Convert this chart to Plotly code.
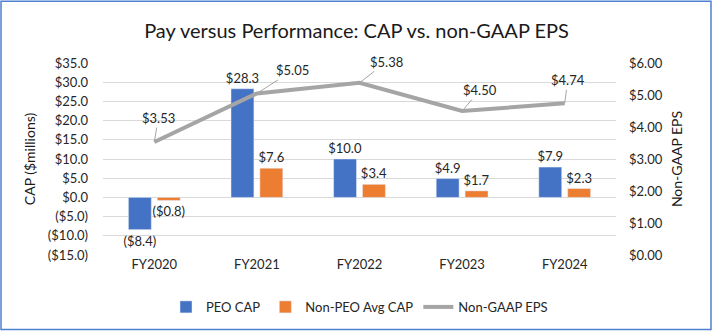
import plotly.graph_objects as go

years = ["FY2020", "FY2021", "FY2022", "FY2023", "FY2024"]
peo_cap = [-8.4, 28.3, 10.0, 4.9, 7.9]
non_peo_cap = [-0.8, 7.6, 3.4, 1.7, 2.3]
eps = [3.53, 5.05, 5.38, 4.50, 4.74]

left_ticks = [35, 30, 25, 20, 15, 10, 5, 0, -5, -10, -15]
right_ticks = [6, 5, 4, 3, 2, 1, 0]
# label offsets (px) for EPS data labels
eps_label_dx = [4, 36, 27, 18, 3]
eps_label_dy = [-24, -23, -21, -21, -23]


def money1(v):
    return f"(${abs(v):.1f})" if v < 0 else f"${v:.1f}"


def money2(v):
    return f"${v:.2f}"


FONT = "Lato, 'Open Sans', sans-serif"
TXT = "#262626"

fig = go.Figure()
fig.add_trace(go.Bar(
    x=years, y=peo_cap, name="PEO CAP", marker_color="#4472C4",
    text=[money1(v) for v in peo_cap], textposition="outside", constraintext="none",
    textfont=dict(size=13, color=TXT), cliponaxis=False,
))
fig.add_trace(go.Bar(
    x=years, y=non_peo_cap, name="Non-PEO Avg CAP", marker_color="#ED7D31",
    text=[money1(v) for v in non_peo_cap], textposition="outside", constraintext="none",
    textfont=dict(size=13, color=TXT), cliponaxis=False,
))
fig.add_trace(go.Scatter(
    x=years, y=eps, name="Non-GAAP EPS", mode="lines", yaxis="y2",
    line=dict(color="#A5A5A5", width=4),
))

for i, (x, v) in enumerate(zip(years, eps)):
    fig.add_annotation(
        x=x, y=v, yref="y2", text=money2(v), showarrow=True,
        arrowhead=0, arrowwidth=1, arrowcolor="#A5A5A5",
        ax=eps_label_dx[i], ay=eps_label_dy[i],
        font=dict(size=13, color=TXT, family=FONT),
    )

L, T, W, H = 103, 63, 513, 193


def px2paper(px, py):
    return (px - L) / W, (T + H - py) / H


x0, y0 = px2paper(1, 331)
x1, y1 = px2paper(711, 1)
fig.add_shape(type="rect", xref="paper", yref="paper", x0=x0, y0=y0, x1=x1, y1=y1,
              line=dict(color="#4F81D0", width=1.5), layer="below")

fig.update_layout(
    width=713, height=333,
    margin=dict(l=L, r=713 - L - W, t=T, b=333 - T - H),
    paper_bgcolor="white", plot_bgcolor="white",
    font=dict(family=FONT, size=13, color=TXT),
    title=dict(text="Pay versus Performance: CAP vs. non-GAAP EPS",
               x=0.5, xanchor="center", y=1 - 31 / 333, yanchor="middle",
               font=dict(size=20, color="#1a1a1a", family=FONT)),
    barmode="group", bargap=0.437, bargroupgap=0.207,
    showlegend=True,
    legend=dict(orientation="h", x=0.5, xanchor="center", y=-0.264, yanchor="middle",
                font=dict(size=13, color=TXT), itemwidth=30, traceorder="normal"),
    xaxis=dict(showgrid=False, showline=False, ticks="", tickfont=dict(size=13, color=TXT)),
    yaxis=dict(range=[-15, 35], tickvals=left_ticks, ticktext=[money1(v) for v in left_ticks],
               showgrid=True, gridcolor="#D9D9D9", gridwidth=1,
               zeroline=True, zerolinecolor="#D9D9D9", zerolinewidth=1,
               showline=False, ticks="", ticklabelstandoff=14,
               title=dict(text="CAP ($millions)", font=dict(size=14, color="#1a1a1a"), standoff=8),
               tickfont=dict(size=13, color=TXT)),
    yaxis2=dict(range=[0, 6], overlaying="y", side="right",
                tickvals=right_ticks, ticktext=[money2(v) for v in right_ticks],
                showgrid=False, zeroline=False, showline=False, ticks="", ticklabelstandoff=12,
                title=dict(text="Non-GAAP EPS", font=dict(size=14, color="#1a1a1a"), standoff=10),
                tickfont=dict(size=13, color=TXT)),
)

fig.write_html("out.html")
